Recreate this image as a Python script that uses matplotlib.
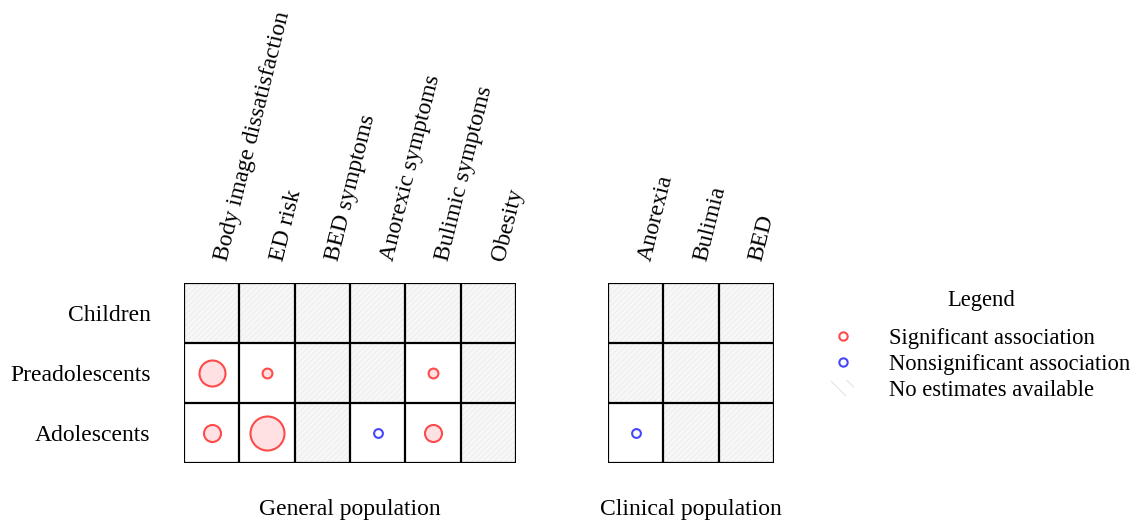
import matplotlib.pyplot as plt
from matplotlib.patches import Rectangle, Patch
from matplotlib.lines import Line2D

# data
ages = ["Children", "Preadolescents", "Adolescents"]
general_cols = ["Body image dissatisfaction", "ED risk", "BED symptoms",
                "Anorexic symptoms", "Bulimic symptoms", "Obesity"]
clinical_cols = ["Anorexia", "Bulimia", "BED"]

# 0 = no estimates, 1 = significant, 2 = nonsignificant
general_status = [[0, 0, 0, 0, 0, 0],
                  [1, 1, 0, 0, 1, 0],
                  [1, 1, 0, 2, 1, 0]]
general_n = [[0, 0, 0, 0, 0, 0],
             [7, 1, 0, 0, 1, 0],
             [3, 12, 0, 1, 3, 0]]
clinical_status = [[0, 0, 0],
                   [0, 0, 0],
                   [2, 0, 0]]
clinical_n = [[0, 0, 0],
              [0, 0, 0],
              [1, 0, 0]]

FONT = "Liberation Serif"
FS = 17
RED = "#ff4a4a"
RED_FILL = "#ffe1e4"
BLUE = "#4646ff"

plt.rcParams["font.family"] = FONT
plt.rcParams["hatch.color"] = "#ececec"
plt.rcParams["hatch.linewidth"] = 0.6

fig = plt.figure(figsize=(11.4, 5.25), dpi=100)
ax1 = fig.add_axes([184 / 1140, 62 / 525, 332 / 1140, 180 / 525])
ax2 = fig.add_axes([608 / 1140, 62 / 525, 166 / 1140, 180 / 525])


def draw_grid(ax, cols, status, n, show_rows):
    ncol = len(cols)
    for r in range(len(ages)):
        for c in range(ncol):
            st = status[r][c]
            if st == 0:
                ax.add_patch(Rectangle((c, r), 1, 1, facecolor="#f7f7f7",
                                       hatch="//////", linewidth=0, zorder=1))
            else:
                ax.add_patch(Rectangle((c, r), 1, 1, facecolor="white",
                                       linewidth=0, zorder=1))
                if st == 1:
                    ax.scatter(c + 0.5, r + 0.5, s=n[r][c] * 50, facecolor=RED_FILL,
                               edgecolor=RED, linewidth=1.5, zorder=3)
                else:
                    ax.scatter(c + 0.5, r + 0.5, s=n[r][c] * 40, facecolor="white",
                               edgecolor=BLUE, linewidth=1.5, zorder=3)
    # grid lines
    for c in range(ncol + 1):
        ax.axvline(c, color="black", linewidth=1.6, zorder=4)
    for r in range(len(ages) + 1):
        ax.axhline(r, color="black", linewidth=1.6, zorder=4)
    ax.set_xlim(0, ncol)
    ax.set_ylim(len(ages), 0)
    for s in ax.spines.values():
        s.set_visible(False)
    ax.xaxis.tick_top()
    ax.set_xticks([c + 0.5 for c in range(ncol)])
    ax.set_xticklabels(cols, rotation=76, ha="left", va="top",
                       rotation_mode="anchor", fontsize=FS)
    ax.tick_params(axis="x", length=0, pad=18)
    if show_rows:
        ax.set_yticks([r + 0.5 for r in range(len(ages))])
        ax.set_yticklabels(ages, fontsize=FS)
        ax.tick_params(axis="y", length=0, pad=24)
    else:
        ax.set_yticks([])


draw_grid(ax1, general_cols, general_status, general_n, True)
draw_grid(ax2, clinical_cols, clinical_status, clinical_n, False)

ax1.text(0.5, -0.26, "General population", transform=ax1.transAxes,
         ha="center", va="center", fontsize=FS)
ax2.text(0.5, -0.26, "Clinical population", transform=ax2.transAxes,
         ha="center", va="center", fontsize=FS)

# legend
handles = [
    Line2D([], [], linestyle="none", marker="o", markersize=6,
           markerfacecolor="white", markeredgecolor=RED, markeredgewidth=1.5),
    Line2D([], [], linestyle="none", marker="o", markersize=6,
           markerfacecolor="white", markeredgecolor=BLUE, markeredgewidth=1.5),
    Patch(facecolor="white", edgecolor="#dcdcdc", hatch="\\\\", linewidth=0),
]
labels = ["Significant association", "Nonsignificant association",
          "No estimates available"]
leg = fig.legend(handles, labels, title="Legend", loc="upper left",
                 bbox_to_anchor=(811 / 1140, 1 - 270 / 525), frameon=False,
                 fontsize=16.3, title_fontsize=16.3, handlelength=1.0,
                 handletextpad=1.55, labelspacing=0.22)
leg._legend_box.sep = 12

fig.savefig("out.png", dpi=100)
